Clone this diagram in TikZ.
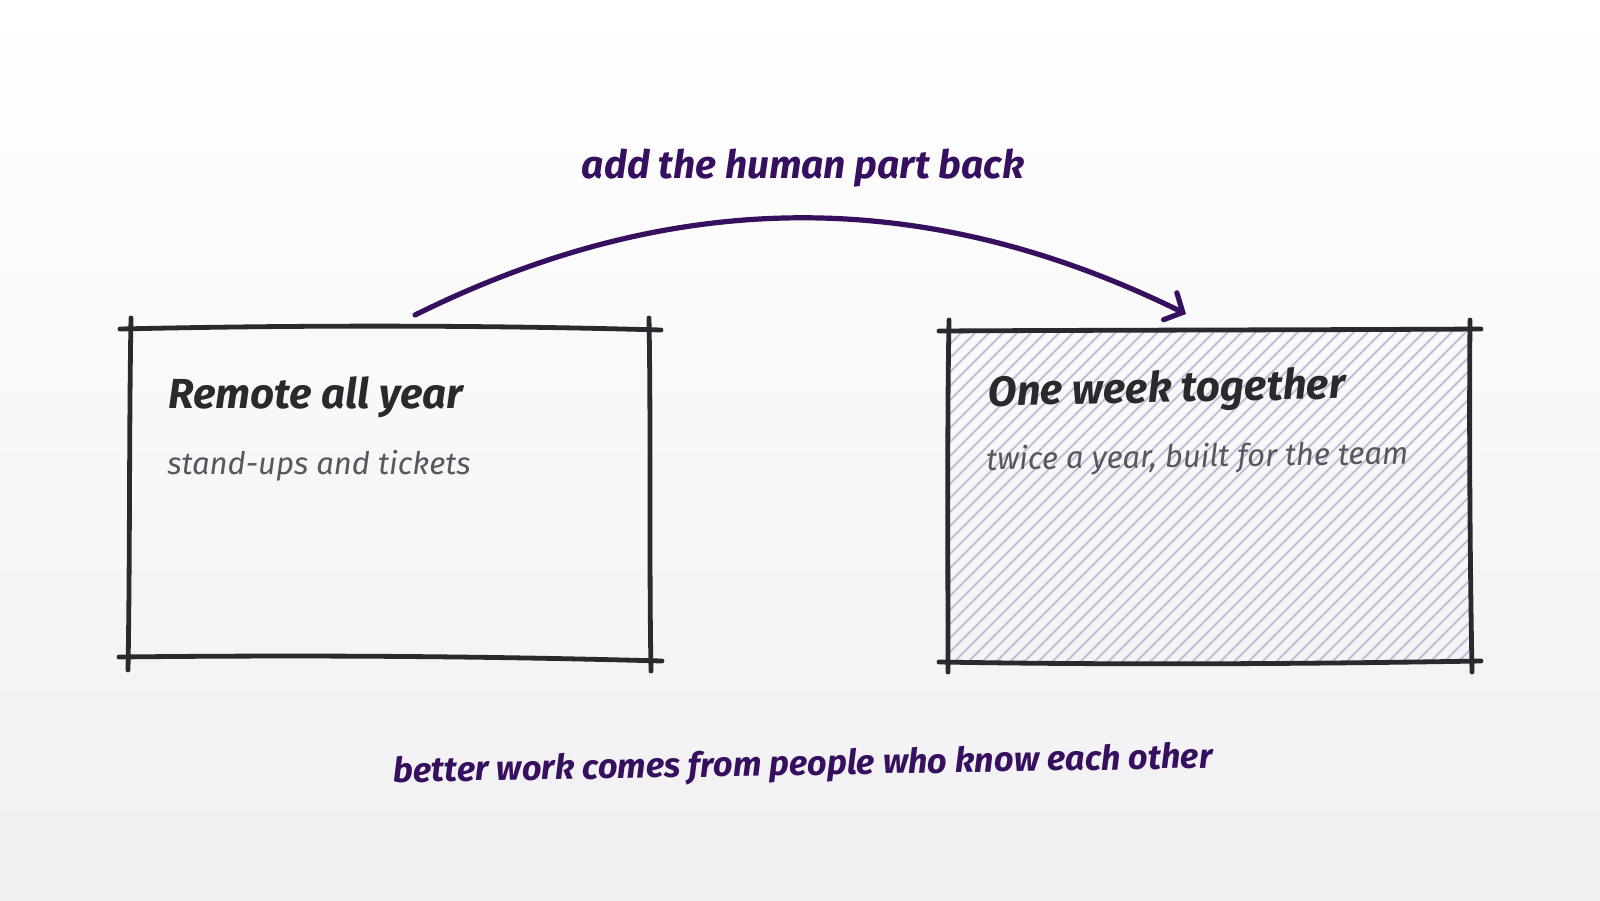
\documentclass[tikz,border=0pt]{standalone}
\usepackage{fontspec}
\setmainfont{Fira Sans}
\usetikzlibrary{arrows.meta,calc}
\definecolor{ink}{HTML}{2A2A2E}
\definecolor{plum}{HTML}{36105E}
\definecolor{hatchc}{HTML}{C3BFDB}
\definecolor{subgray}{HTML}{57575D}
\definecolor{bgb}{HTML}{F0F0F3}
\tikzset{
  sketch/.style={draw=ink, line width=2.4pt, line cap=round},
  hatchline/.style={draw=hatchc, line width=1pt},
  titletext/.style={anchor=base west, inner sep=0pt, text=ink, font=\fontsize{21}{25}\selectfont\bfseries\itshape},
  subtext/.style={anchor=base west, inner sep=0pt, text=subgray, font=\fontsize{15.5}{19}\selectfont\itshape},
  plumtext/.style={inner sep=0pt, text=plum, font=\fontsize{19.5}{23}\selectfont\bfseries\itshape},
  archarrow/.style={draw=plum, line width=2.6pt, line cap=round, -{Straight Barb[length=7pt,width=15pt,line cap=round]}}
}
\begin{document}
\begin{tikzpicture}[x=0.5pt,y=-0.5pt]
\useasboundingbox (0,0) rectangle (1600,900);
\shade[top color=white, bottom color=bgb] (0,0) rectangle (1600,900);

% named corners
\coordinate (Lnw) at (130,328);
\coordinate (Lse) at (650,659);
\coordinate (Rnw) at (949,330);
\coordinate (Rse) at (1470,661);

% hatch in right box
\begin{scope}
  \clip (Rnw) rectangle (Rse);
  \foreach \k in {0,...,62} \draw[hatchline] ({617+\k*14},663) -- ++(335,-335);
\end{scope}

% left box (sketchy)
\draw[sketch] (120,329) .. controls (300,325) and (480,325) .. (661,330);
\draw[sketch] (119,657) .. controls (300,655) and (480,656) .. (662,661);
\draw[sketch] (131,318) .. controls (129,430) and (130,560) .. (128,670);
\draw[sketch] (649,318) .. controls (651,430) and (649,560) .. (651,671);

% right box (sketchy)
\draw[sketch] (939,331) .. controls (1120,330) and (1300,330) .. (1481,329);
\draw[sketch] (939,662) .. controls (1120,665) and (1300,664) .. (1481,661);
\draw[sketch] (949,320) .. controls (947,430) and (948,560) .. (948,672);
\draw[sketch] (1470,320) .. controls (1469,430) and (1470,560) .. (1472,672);

% texts in boxes
\node[titletext] (t1) at (168,408) {Remote all year};
\node[subtext] (s1) at (167,474) {stand-ups and tickets};
\node[titletext, rotate=1.2] (t2) at (988,406) {One week together};
\node[subtext, rotate=0.8] (s2) at (986,470) {twice a year, built for the team};

% arrow
\coordinate (arrowStart) at (415,315);
\coordinate (arrowEnd) at (1186,314);
\draw[archarrow] (arrowStart) .. controls (675,186) and (926,186) .. (arrowEnd);

\node[plumtext] (top) at (803,168) {add the human part back};
\node[plumtext, font=\fontsize{17.2}{21}\selectfont\bfseries\itshape, rotate=1] (bottom) at (803,766) {better work comes from people who know each other};
\end{tikzpicture}
\end{document}
